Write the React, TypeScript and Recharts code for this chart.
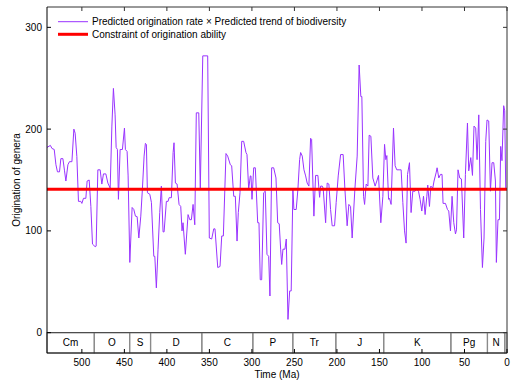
import React from 'react';
import {
  LineChart,
  Line,
  XAxis,
  YAxis,
  ReferenceLine,
  ReferenceArea,
} from 'recharts';

// Time bins (Ma), oldest first
const ages = [
  541, 537, 535.2, 532.5, 530.5, 528.7, 526.3, 524.7, 522.3, 520.4, 518.8, 516.4, 514.6, 511.7,
  509.4, 507.9, 505.9, 504, 501.2, 500, 498.1, 495.3, 493.8, 491.4, 489.4, 487.5, 484.4, 483.2,
  481.2, 478.5, 476.5, 474.6, 471.8, 469.4, 466.7, 464.7, 462.9, 460.9, 459.7, 458.2, 457, 455,
  452.3, 449.9, 448.8, 446.8, 445.6, 443.6, 440.9, 438.9, 437, 435, 433, 430.7, 428.8, 426.8,
  425.3, 424.1, 422.9, 420.1, 418.2, 415.4, 414.2, 412.4, 410.4, 408.4, 406.5, 404.5, 403.3,
  400.6, 398.6, 397.4, 394.7, 392.7, 391.6, 390, 388, 385.7, 383.7, 382.2, 381, 378.3, 375.1,
  373.1, 371.2, 369.2, 367.2, 365.4, 362.5, 360.7, 357.8, 352, 350.1, 347.3, 344.9, 343.4,
  340.2, 337.5, 335.5, 333.6, 330.5, 328.5, 325.4, 323.8, 321.4, 319.5, 317.5, 316, 314, 312,
  309.7, 307, 305.8, 303.8, 301.9, 301.1, 299.9, 297.9, 296, 293.2, 291.7, 290.2, 288.5, 286.2,
  284.3, 282.3, 280.3, 278.8, 276.8, 274.4, 271.7, 269.7, 267.9, 266.2, 265, 263.5, 261.2,
  259.6, 257.6, 255.6, 253.8, 251.8, 250.6, 247.9, 245.9, 243.9, 242.7, 240.8, 238.8, 236.8,
  235, 233, 231, 229.8, 227.1, 225.1, 222.4, 220.4, 219.2, 217.3, 216.2, 213.3, 211.5, 209.5,
  207.5, 205.6, 202.8, 200.9, 198.5, 195.7, 192.7, 190.7, 188, 186, 184, 182.1, 178.9, 176.2,
  173.9, 171.9, 170.7, 168.7, 167.5, 165.6, 163.6, 162.1, 160.1, 157.8, 155.1, 153.1, 151.1,
  148.4, 146, 144, 142.5, 141.3, 139.3, 138.2, 136.3, 133.5, 131.6, 129.6, 126.9, 124.5, 122.5,
  120.5, 118.7, 117, 114.7, 112.8, 110.8, 108.1, 106.1, 104.1, 102.2, 100.2, 98.2, 96.3, 94.3,
  93.2, 91.2, 89.6, 87.3, 85.8, 83.4, 82.2, 80.2, 78.2, 76.4, 75.2, 72.4, 70, 68.5, 66.5, 64.6,
  62.6, 60.6, 59.4, 57.6, 55.6, 53.6, 50.9, 48.9, 46.5, 45, 42.6, 40.6, 38.8, 36.8, 35.2, 33.2,
  31.2, 28.9, 27, 25, 23.5, 21.5, 19.5, 17.6, 15.6, 13.6, 12.5, 10.6, 8.9, 7.4, 5.9, 3.9, 2.7,
  1.5, 0.3,
];

// Predicted origination rate x predicted trend of biodiversity
const origination = [
  182, 184, 181, 180, 165, 158, 158, 171, 171, 159, 149, 165, 168, 168,
  200, 196, 173, 129, 129, 127, 132, 132, 149, 150, 124, 87, 84.5, 85,
  160, 160, 146, 156, 156, 147, 142, 203, 240, 214, 182, 180, 131, 180,
  180, 201, 180, 178, 154, 69, 123, 121, 114.5, 114, 93, 114.5, 141, 173.5,
  186, 185, 137.5, 136, 128, 75, 75, 44, 82, 118, 144, 99, 99,
  129, 129, 132.6, 132.6, 177, 186.6, 147, 146, 126, 124, 100, 108, 77, 116,
  111, 111, 126, 106, 216, 216, 142, 272, 272, 93, 92, 102, 102,
  64, 65, 95, 95, 176, 173.5, 165, 164, 134, 134, 90, 118, 137.5, 188,
  188, 177, 175, 141, 154, 154, 131, 162, 162, 108, 108, 52, 52, 137.5,
  139, 77, 75, 36, 162, 162, 152, 108, 107, 82, 67, 82, 82,
  92, 13, 41, 41, 141, 121, 121, 141, 170, 177, 173.5, 160, 154,
  147, 144, 191, 190, 114.5, 154.5, 154.5, 133, 144, 144, 142, 108, 147, 146,
  121, 105, 105, 128, 154, 175, 175, 142, 105, 126, 124, 93, 141, 173.5,
  263, 232, 232, 134, 126, 146, 144, 194, 193, 152, 144, 149, 154.5,
  108, 134, 185, 170, 174, 131, 132, 126, 201, 164, 160, 160, 160, 128,
  100, 88, 155.5, 167, 118, 139, 139, 141, 139, 131, 119.5, 134, 116, 134,
  145, 124, 144, 142, 149, 157, 162, 152, 155.5, 155.5, 127, 127, 121, 119.5, 100, 134,
  108, 97, 101, 160, 152, 151, 93, 155.5, 206, 159, 172, 154.5, 203, 201, 170, 214,
  121, 64, 93, 188, 209, 208, 139, 167, 167, 149, 69, 111, 111, 183, 169, 223, 218,
  142, 141,
];

const constraintLevel = 141;

const xTicks = [0, 50, 100, 150, 200, 250, 300, 350, 400, 450, 500];
const yTicks = [0, 100, 200, 300];

// Geological periods along the bottom band
const periodNames = ['Cm', 'O', 'S', 'D', 'C', 'P', 'Tr', 'J', 'K', 'Pg', 'N', ''];
const periodStart = [541, 485.4, 443.8, 419.2, 358.9, 298.9, 251.9, 201.3, 145, 66, 23, 2.58];
const periodEnd = [485.4, 443.8, 419.2, 358.9, 298.9, 251.9, 201.3, 145, 66, 23, 2.58, 0];

const seriesNames = [
  'Predicted origination rate \u00d7 Predicted trend of biodiversity',
  'Constraint of origination ability',
];

const data = ages.map((age, i) => ({ age, value: origination[i] }));

const FONT = '"Liberation Sans", Arial, Helvetica, sans-serif';
const PURPLE = '#9933FF';
const RED = '#FF0000';
const X_DOMAIN: [number, number] = [0, 541];
const Y_DOMAIN: [number, number] = [-20, 320];
const TICK = 4;

const BottomTick = ({ x, y, payload }: any) => (
  <g>
    <line x1={x} x2={x} y1={y} y2={y - TICK} stroke="#000" />
    <text x={x} y={y + 13} textAnchor="middle" fontSize={10} fill="#000" fontFamily={FONT}>
      {payload.value}
    </text>
  </g>
);

const TopTick = ({ x, y }: any) => (
  <line x1={x} x2={x} y1={y} y2={y + TICK} stroke="#333" />
);

const LeftTick = ({ x, y, payload }: any) => (
  <g>
    <line x1={x} x2={x + TICK} y1={y} y2={y} stroke="#000" />
    <text x={x - 5} y={y + 3.5} textAnchor="end" fontSize={10} fill="#000" fontFamily={FONT}>
      {payload.value}
    </text>
  </g>
);

const RightTick = ({ x, y }: any) => (
  <line x1={x} x2={x - TICK} y1={y} y2={y} stroke="#333" />
);

const YTitle = ({ viewBox }: any) => {
  const cx = viewBox.x + 20;
  const cy = viewBox.y + viewBox.height / 2;
  return (
    <text
      transform={`translate(${cx},${cy}) rotate(-90)`}
      textAnchor="middle"
      fontSize={10}
      fill="#000"
      fontFamily={FONT}
    >
      Origination of genera
    </text>
  );
};

const XTitle = ({ viewBox }: any) => (
  <text
    x={viewBox.x + viewBox.width / 2}
    y={viewBox.y + 24.5}
    textAnchor="middle"
    fontSize={10}
    fill="#000"
    fontFamily={FONT}
  >
    Time (Ma)
  </text>
);

const LegendBox = () => (
  <g fontFamily={FONT} fontSize={10}>
    <line x1={58} x2={88} y1={21.7} y2={21.7} stroke={PURPLE} strokeWidth={1} />
    <text x={92} y={25.3} fill="#000">{seriesNames[0]}</text>
    <line x1={58} x2={88} y1={34.3} y2={34.3} stroke={RED} strokeWidth={3} />
    <text x={92} y={37.9} fill="#000">{seriesNames[1]}</text>
  </g>
);

export default function App() {
  return (
    <div style={{ position: 'absolute', left: 0, top: 0, background: '#fff' }}>
      <LineChart
        width={518}
        height={389}
        data={data}
        margin={{ top: 6, right: 10, left: 0, bottom: 0 }}
        style={{ fontFamily: FONT }}
      >
        <XAxis
          dataKey="age"
          type="number"
          domain={X_DOMAIN}
          reversed
          allowDataOverflow
          ticks={xTicks}
          interval={0}
          height={36}
          tickSize={0}
          tickMargin={0}
          tick={<BottomTick />}
          axisLine={{ stroke: '#000' }}
          label={<XTitle />}
        />
        <XAxis
          xAxisId="top"
          dataKey="age"
          orientation="top"
          type="number"
          domain={X_DOMAIN}
          reversed
          allowDataOverflow
          ticks={xTicks}
          interval={0}
          height={1}
          tickSize={0}
          tickMargin={0}
          tick={<TopTick />}
          axisLine={{ stroke: '#333' }}
        />
        <YAxis
          type="number"
          domain={Y_DOMAIN}
          allowDataOverflow
          ticks={yTicks}
          interval={0}
          width={47}
          tickSize={0}
          tickMargin={0}
          tick={<LeftTick />}
          axisLine={{ stroke: '#000' }}
          label={<YTitle />}
        />
        <YAxis
          yAxisId="right"
          orientation="right"
          type="number"
          domain={Y_DOMAIN}
          allowDataOverflow
          ticks={yTicks}
          interval={0}
          width={1}
          tickSize={0}
          tickMargin={0}
          tick={<RightTick />}
          axisLine={{ stroke: '#333' }}
        />
        {periodNames.map((name, i) => (
          <ReferenceArea
            key={`period-${i}`}
            x1={periodStart[i]}
            x2={periodEnd[i]}
            y1={Y_DOMAIN[0]}
            y2={0}
            fill="none"
            stroke="#8a8a8a"
            strokeWidth={1.2}
            label={{ value: name, position: 'center', fontSize: 10, fill: '#000', fontFamily: FONT }}
          />
        ))}
        <ReferenceLine y={0} stroke="#444" />
        {/* invisible copy on the mirror axes so the box frame gets drawn */}
        <Line
          xAxisId="top"
          yAxisId="right"
          dataKey="value"
          stroke="none"
          dot={false}
          activeDot={false}
          legendType="none"
          isAnimationActive={false}
        />
        <Line
          type="linear"
          dataKey="value"
          name={seriesNames[0]}
          stroke={PURPLE}
          strokeWidth={1}
          dot={false}
          isAnimationActive={false}
        />
        <ReferenceLine y={constraintLevel} stroke={RED} strokeWidth={3} />
        <LegendBox />
      </LineChart>
    </div>
  );
}
